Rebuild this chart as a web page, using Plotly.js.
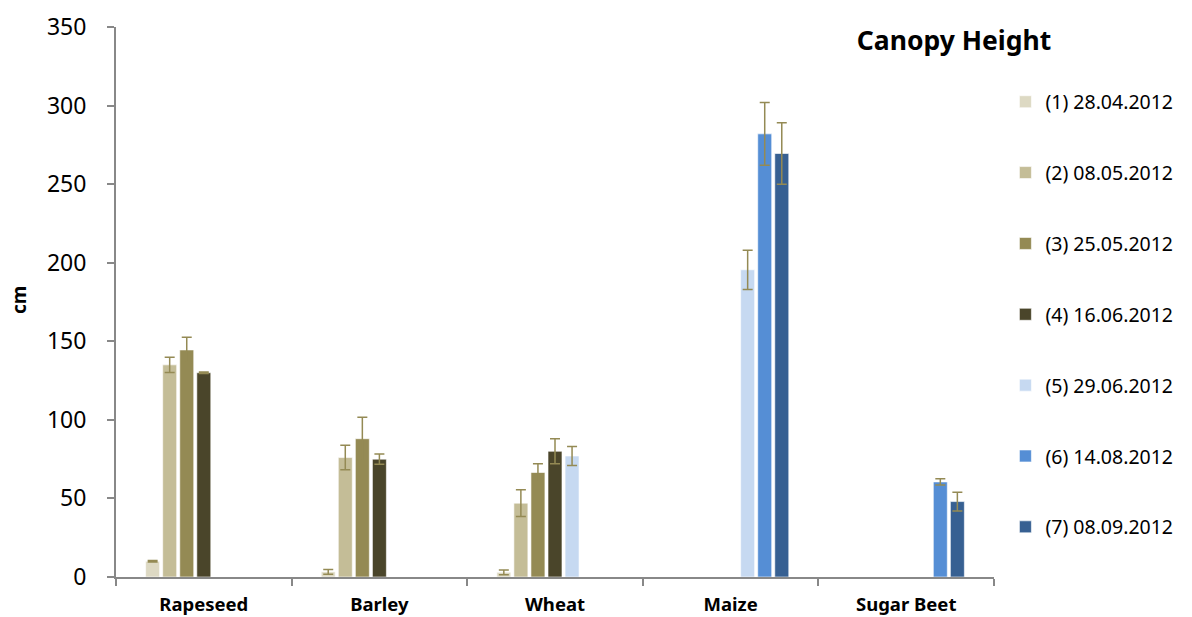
<!DOCTYPE html>
<html>
<head>
<meta charset="utf-8">
<script src="https://cdn.plot.ly/plotly-3.0.1.min.js"></script>
<style>html,body{margin:0;padding:0;background:#fff;}#chart{width:1192px;height:617px;}</style>
</head>
<body>
<div id="chart"></div>
<script>
const categories = ["Rapeseed", "Barley", "Wheat", "Maize", "Sugar Beet"];
const seriesNames = ["(1) 28.04.2012", "(2) 08.05.2012", "(3) 25.05.2012", "(4) 16.06.2012", "(5) 29.06.2012", "(6) 14.08.2012", "(7) 08.09.2012"];
const s1 = [10, 3.3, 3, null, null];
const s2 = [135, 76, 47, null, null];
const s3 = [144.5, 88, 66.5, null, null];
const s4 = [130, 75, 80, null, null];
const s5 = [null, null, 77, 195.5, null];
const s6 = [null, null, null, 282, 60.5];
const s7 = [null, null, null, 269.5, 48];
const e1 = [0.5, 1.5, 1.5, 0, 0];
const e2 = [4.8, 7.8, 8.5, 0, 0];
const e3 = [8, 13.7, 5.5, 0, 0];
const e4 = [0.5, 3.3, 8, 0, 0];
const e5 = [0, 0, 6, 12.5, 0];
const e6 = [0, 0, 0, 20, 2];
const e7 = [0, 0, 0, 19.5, 6];
const colors = ["#DDD9C3", "#C4BD97", "#948A54", "#4A452A", "#C6D9F1", "#558ED5", "#376092"];

const values = [s1, s2, s3, s4, s5, s6, s7];
const errors = [e1, e2, e3, e4, e5, e6, e7];

const traces = values.map((v, i) => ({
  type: "bar",
  name: seriesNames[i],
  x: categories,
  y: v,
  legendgroup: "g" + i,
  marker: {color: colors[i], line: {color: "rgba(255,255,255,0.6)", width: 1}},
  error_y: {type: "data", array: errors[i], visible: true, color: "#948A54", thickness: 1.5, width: 5}
}));

const layout = {
  width: 1192, height: 617,
  margin: {l: 116, r: 198, t: 27, b: 40},
  paper_bgcolor: "#fff", plot_bgcolor: "#fff",
  barmode: "group",
  bargap: 0.32,
  bargroupgap: 0.18,
  font: {family: "Noto Sans, Liberation Sans, sans-serif", color: "#000"},
  title: {text: "<b>Canopy Height</b>", font: {size: 26.5, family: "Noto Sans, sans-serif", color: "#000"}, x: 954/1192, xanchor: "center", y: 1 - 41/617, yanchor: "middle"},
  xaxis: {
    type: "category",
    showline: true, linecolor: "#888", linewidth: 2,
    ticks: "outside", tickson: "boundaries", ticklen: 7, tickcolor: "#888", tickwidth: 2,
    tickfont: {size: 18.5, family: "Noto Sans, sans-serif", weight: "bold"},
    ticklabelstandoff: 10,
    showgrid: false, zeroline: false, fixedrange: true
  },
  yaxis: {
    range: [0, 350], dtick: 50,
    showline: true, linecolor: "#888", linewidth: 2,
    ticks: "outside", ticklen: 7, tickcolor: "#888", tickwidth: 2,
    tickfont: {size: 23, family: "Noto Sans, sans-serif"},
    ticklabelstandoff: 16,
    showgrid: false, zeroline: false
  },
  annotations: [{
    text: "<b>cm</b>", xref: "paper", yref: "paper",
    x: (19 - 116) / 878, y: (577 - 300) / 550, xanchor: "center", yanchor: "middle",
    textangle: -90, showarrow: false, font: {size: 19, family: "Noto Sans, sans-serif", color: "#000"}
  }],
  legend: {
    x: 1.013, xanchor: "left", y: 0.899, yanchor: "top",
    font: {size: 19.5, family: "Noto Sans, sans-serif"},
    tracegroupgap: 42.5,
    itemwidth: 30,
    traceorder: "grouped"
  },
  showlegend: true
};

Plotly.newPlot("chart", traces, layout, {displayModeBar: false, staticPlot: true});
</script>
</body>
</html>
